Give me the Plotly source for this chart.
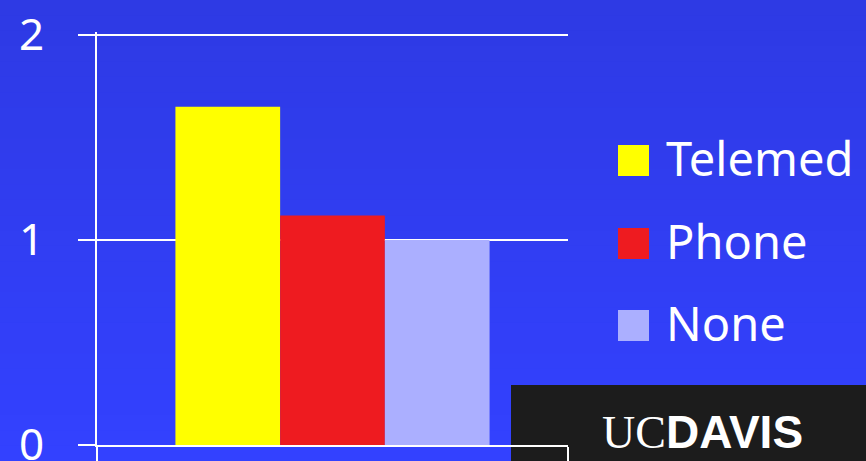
import plotly.graph_objects as go

# Veriler
gruplar = ["Telemed", "Phone", "None"]
degerler = [1.65, 1.12, 1.0]
renkler = ["#FFFF00", "#EE1B20", "#ABAFFF"]
y_ticks = [0, 1, 2]

W, H = 866, 461
Y_MAX = 2.015  # üst ızgara çizgisi kırpılmasın diye az pay
L, R, T, B = 97, 298, 32, 16
FONT = "Comic Sans MS, Noto Sans, sans-serif"


def px_x(px):
    # piksel -> paper koordinatı (yatay)
    return (px - L) / (W - L - R)


def px_y(py):
    # piksel -> paper koordinatı (dikey)
    return (H - B - py) / (H - T - B)


fig = go.Figure()

for ad, deger, renk in zip(gruplar, degerler, renkler):
    fig.add_trace(go.Bar(
        x=[""], y=[deger], name=ad,
        marker=dict(color=renk, line=dict(width=0)),
        showlegend=False,
    ))

shapes = []

# Arka plan geçişi (üst koyu mavi -> alt parlak mavi)
top_c, bot_c = (46, 58, 228), (51, 65, 255)
n_band = 30
for i in range(n_band):
    t = i / (n_band - 1)
    c = tuple(round(a + (b - a) * t) for a, b in zip(top_c, bot_c))
    shapes.append(dict(
        type="rect", xref="paper", yref="paper", layer="below",
        x0=px_x(-5), x1=px_x(W + 5),
        y0=px_y(H * i / n_band - (5 if i == 0 else 0)),
        y1=px_y(H * (i + 1) / n_band + (5 if i == n_band - 1 else 1)),
        fillcolor=f"rgb{c}", line=dict(width=0),
    ))

# UC Davis logo kutusu
shapes.append(dict(
    type="rect", xref="paper", yref="paper", layer="below",
    x0=px_x(511), x1=px_x(W + 5), y0=px_y(385), y1=px_y(H + 5),
    fillcolor="#1C1C1C", line=dict(width=0),
))

annotations = []

# Elle çizilen lejant
satir_y = [160.5, 243.5, 325.5]
for ad, renk, yc in zip(gruplar, renkler, satir_y):
    shapes.append(dict(
        type="rect", xref="paper", yref="paper",
        x0=px_x(618), x1=px_x(649), y0=px_y(yc - 15.5), y1=px_y(yc + 15.5),
        fillcolor=renk, line=dict(width=0),
    ))
    annotations.append(dict(
        text=ad, xref="paper", yref="paper",
        x=px_x(664), y=px_y(yc - 3), xanchor="left", yanchor="middle",
        showarrow=False, font=dict(family=FONT, size=47, color="white"),
    ))

annotations.append(dict(
    text=("<span style='font-family:Liberation Serif'>UC</span>"
          "<span style='font-family:Liberation Sans'><b>DAVIS</b></span>"),
    xref="paper", yref="paper", x=px_x(600), y=px_y(432),
    xanchor="left", yanchor="middle", showarrow=False,
    font=dict(size=46, color="white"),
))

fig.update_layout(
    width=W, height=H,
    margin=dict(l=L, r=R, t=T, b=B, pad=0),
    paper_bgcolor="rgb(48,61,240)",
    plot_bgcolor="rgba(0,0,0,0)",
    barmode="group",
    bargap=0.333,
    bargroupgap=0,
    shapes=shapes,
    annotations=annotations,
    font=dict(family=FONT, color="white"),
)

fig.update_xaxes(
    automargin=False,
    showgrid=False, showticklabels=False,
    showline=True, linecolor="white", linewidth=2,
    ticks="outside", tickson="boundaries", ticklen=20,
    tickcolor="white", tickwidth=2,
)

fig.update_yaxes(
    automargin=False,
    range=[0, Y_MAX], tickvals=y_ticks,
    showgrid=True, gridcolor="white", gridwidth=2,
    zeroline=False,
    showline=True, linecolor="white", linewidth=2,
    ticks="outside", ticklen=17, tickcolor="white", tickwidth=2,
    ticklabelstandoff=25, ticklabeloverflow="allow",
    tickfont=dict(family=FONT, size=44, color="white"),
)

fig.write_html(
    "out.html",
    config={"displayModeBar": False},
    post_script="document.body.style.margin='0';",
)
